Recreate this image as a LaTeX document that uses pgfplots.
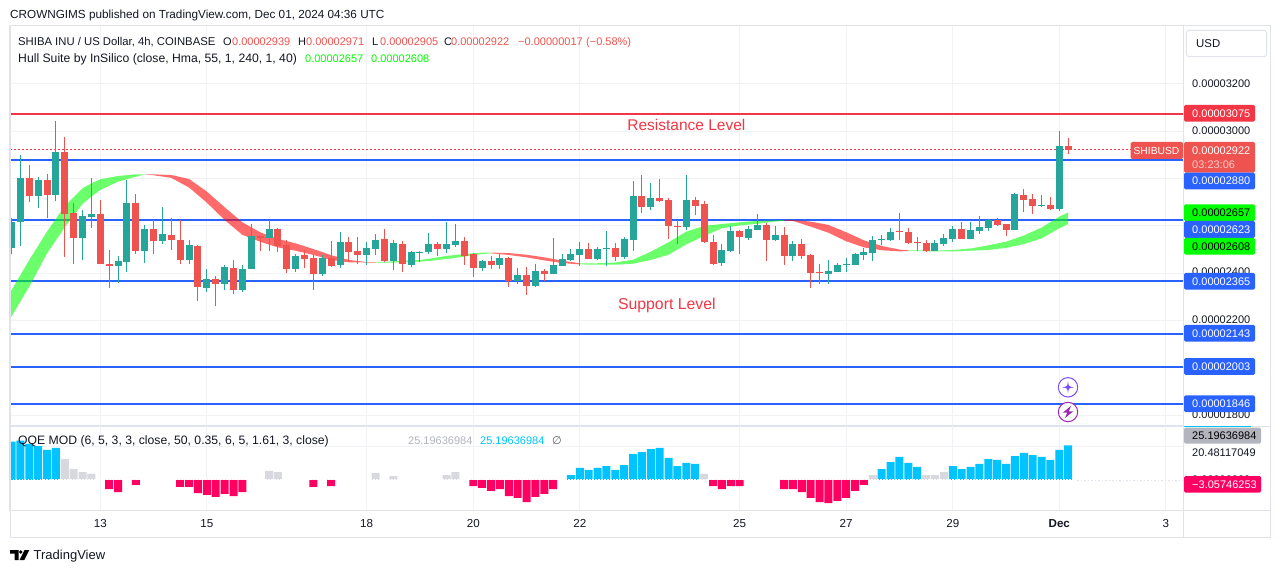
\documentclass[border=0pt]{standalone}
\usepackage{fontspec}
\setmainfont{Liberation Sans}
\newfontfamily\symfont{DejaVu Sans}
\usepackage{pgfplots}
\usepackage{pgfplotstable}
\pgfplotsset{compat=1.18}
\definecolor{cteal}{HTML}{26A69A}
\definecolor{cred}{HTML}{EF5350}
\definecolor{lred}{HTML}{F23645}
\definecolor{lblue}{HTML}{2962FF}
\definecolor{gridc}{HTML}{F0F2F5}
\definecolor{framec}{HTML}{E0E3EB}
\definecolor{tvtext}{HTML}{131722}
\definecolor{qblue}{HTML}{00C3FF}
\definecolor{qgray}{HTML}{D8D9DE}
\definecolor{qpink}{HTML}{FF0062}
\definecolor{lime}{HTML}{00FF00}
\definecolor{sgray}{HTML}{B2B5BE}
% Prices are in units of 0.00000001 USD; x is the 4h bar number counted from 13 Nov 00:00
\pgfplotstableread{
i O H L C
-10 2508 2632 2481 2618
-9 2618 2900 2515 2803
-7 2726 2807 2676 2794
-5 2731 3044 2705 2913
-2 2549 2667 2456 2642
-1 2638 2803 2591 2650
2 2431 2473 2359 2452
3 2447 2794 2407 2697
5 2494 2604 2443 2587
7 2536 2680 2523 2566
10 2456 2540 2439 2519
12 2338 2418 2321 2376
14 2354 2435 2329 2426
16 2329 2435 2321 2418
17 2418 2608 2418 2557
19 2549 2625 2494 2587
22 2418 2481 2405 2473
25 2397 2477 2388 2464
27 2435 2574 2422 2532
30 2477 2532 2435 2507
31 2502 2566 2477 2540
33 2452 2540 2414 2528
35 2435 2494 2426 2490
36 2486 2492 2447 2490
37 2490 2570 2481 2523
39 2502 2617 2485 2523
40 2519 2608 2511 2536
43 2422 2456 2409 2452
45 2435 2481 2418 2464
47 2367 2422 2354 2392
49 2346 2439 2342 2409
51 2397 2549 2395 2435
52 2430 2481 2430 2460
53 2456 2502 2452 2481
54 2477 2532 2430 2502
56 2460 2511 2456 2502
57 2502 2578 2430 2507
59 2469 2553 2460 2545
60 2540 2790 2494 2726
62 2680 2781 2667 2718
66 2595 2815 2583 2710
70 2443 2523 2430 2498
71 2494 2600 2490 2578
73 2549 2600 2540 2587
74 2583 2650 2581 2604
76 2540 2600 2536 2562
78 2473 2536 2452 2523
82 2397 2456 2354 2409
83 2405 2443 2403 2435
84 2435 2464 2405 2439
85 2435 2485 2433 2481
86 2477 2507 2456 2490
87 2485 2557 2452 2540
88 2540 2562 2519 2545
89 2540 2591 2536 2574
94 2494 2540 2492 2528
95 2523 2566 2515 2549
96 2545 2600 2532 2587
98 2545 2617 2543 2583
99 2578 2642 2566 2595
100 2591 2629 2578 2625
103 2583 2737 2581 2735
106 2684 2731 2680 2688
108 2671 3001 2663 2938
}\upbars
\pgfplotstableread{
i O H L C
-8 2803 2858 2701 2726
-6 2794 2820 2633 2731
-4 2913 2976 2469 2650
-3 2655 2695 2439 2549
0 2650 2710 2439 2439
1 2439 2498 2338 2431
4 2697 2735 2481 2494
6 2587 2625 2481 2536
8 2562 2633 2498 2540
9 2540 2625 2439 2456
11 2515 2519 2283 2342
13 2376 2388 2261 2354
15 2422 2456 2312 2329
18 2557 2559 2494 2549
20 2587 2590 2490 2515
21 2519 2540 2401 2418
23 2477 2498 2422 2460
24 2464 2477 2329 2397
26 2464 2536 2426 2431
28 2532 2553 2447 2490
29 2494 2553 2439 2477
32 2545 2587 2447 2452
34 2523 2536 2405 2439
38 2523 2532 2473 2502
41 2536 2553 2435 2473
42 2481 2485 2384 2422
44 2452 2473 2418 2435
46 2464 2469 2342 2367
48 2392 2426 2308 2346
50 2409 2418 2367 2397
55 2502 2528 2458 2460
58 2507 2528 2452 2469
61 2726 2815 2655 2680
63 2718 2798 2703 2705
64 2710 2718 2545 2600
65 2600 2625 2523 2595
67 2710 2722 2646 2684
68 2693 2705 2528 2532
69 2532 2562 2435 2439
72 2578 2583 2481 2553
75 2604 2612 2452 2540
77 2562 2595 2435 2473
79 2523 2545 2460 2473
80 2477 2480 2337 2401
81 2405 2439 2354 2401
90 2578 2655 2540 2574
91 2574 2591 2523 2528
92 2532 2553 2494 2528
93 2528 2540 2490 2494
97 2587 2617 2543 2545
101 2625 2633 2600 2604
102 2608 2610 2557 2583
104 2731 2756 2659 2710
105 2714 2735 2650 2684
107 2688 2722 2669 2671
109 2939 2971 2905 2922
}\downbars
\newcommand\ff[1]{\fontsize{#1}{#1}\selectfont}
% text helper: left x, centre y in reference pixels
\newcommand\tx[4][11]{\node[anchor=base west,inner sep=0pt,font=\ff{#1}] at (#2,{569-#3}) {#4};}
\newcommand\lab[4]{\fill[#1,rounded corners=1.5pt] (1184,{573-#2+8.4}) rectangle (1255,{573-#2-8.4});
  \node[anchor=base west,inner sep=0pt,text=#3,font=\ff{11}] at (1192,{569-#2}) {#4};}
\begin{document}
\begin{tikzpicture}
\path[use as bounding box,fill=white] (0pt,0pt) rectangle (1281pt,573pt);
\begin{axis}[
  scale only axis, width=1173pt, height=400pt, at={(10pt,147pt)}, anchor=south west,
  xmin=-10.17, xmax=121.93, ymin=1754, ymax=3445,
  xtick={0,12,30,42,54,72,84,96,108,120}, ytick={1800,2000,2200,2400,2600,2800,3000,3200},
  xticklabels={}, yticklabels={}, grid=major, grid style={gridc,line width=0.9pt},
  major tick length=0pt, axis line style={framec,line width=1pt}, clip=true]
\addplot[lblue,line width=2pt,forget plot] coordinates {(-10.17,2880) (121.93,2880)};
\addplot[lblue,line width=2pt,forget plot] coordinates {(-10.17,2623) (121.93,2623)};
\addplot[lblue,line width=2pt,forget plot] coordinates {(-10.17,2365) (121.93,2365)};
\addplot[lblue,line width=2pt,forget plot] coordinates {(-10.17,2143) (121.93,2143)};
\addplot[lblue,line width=2pt,forget plot] coordinates {(-10.17,2003) (121.93,2003)};
\addplot[lblue,line width=2pt,forget plot] coordinates {(-10.17,1846) (121.93,1846)};
\addplot[lred,line width=2pt,forget plot] coordinates {(-10.17,3075) (121.93,3075)};
\addplot[lred,line width=1.2pt,dash pattern=on 2pt off 2pt,forget plot] coordinates {(-10.17,2922) (121.93,2922)};
% Hull band: upper edge left to right, lower edge back
\addplot[fill=lime,fill opacity=0.58,draw=none,forget plot] coordinates {
 (-10.2,2315)(-8,2456)(-6,2576)(-4,2684)(-2,2759)(-1,2780)(0,2797)(2,2811)(4,2818)(5,2818)
 (5,2817)(4,2808)(2,2787)(0,2752)(-1,2724)(-2,2693)(-4,2594)(-6,2484)(-8,2343)(-10.2,2205)} -- cycle;
\addplot[fill=red,fill opacity=0.58,draw=none,forget plot] coordinates {
 (5,2818)(6,2818)(8,2815)(10,2798)(12,2745)(14,2679)(16,2615)(18,2573)(20,2545)(22,2526)(24,2502)(26,2476)(28,2456)(30,2447)(31,2447)
 (31,2445)(30,2445)(28,2446)(26,2456)(24,2477)(22,2495)(20,2509)(18,2533)(16,2562)(14,2625)(12,2698)(10,2762)(8,2803)(6,2814)(5,2817)} -- cycle;
\addplot[fill=lime,fill opacity=0.58,draw=none,forget plot] coordinates {
 (31,2447)(33,2450)(36,2456)(37,2461)(39,2473)(41,2481)(43,2487)(44,2487)
 (44,2484)(43,2481)(41,2470)(39,2460)(37,2452)(36,2449)(33,2445)(31,2445)} -- cycle;
\addplot[fill=red,fill opacity=0.58,draw=none,forget plot] coordinates {
 (44,2487)(46,2485)(48,2478)(50,2467)(52,2453)(54,2442)
 (54,2437)(52,2443)(50,2454)(48,2467)(46,2477)(44,2484)} -- cycle;
\addplot[fill=lime,fill opacity=0.58,draw=none,forget plot] coordinates {
 (54,2442)(56,2442)(58,2445)(60,2457)(62,2491)(64,2531)(66,2576)(68,2600)(70,2608)(72,2615)(74,2621)(76,2623)(77,2625)
 (77,2622)(76,2618)(74,2609)(72,2602)(70,2590)(68,2557)(66,2522)(64,2478)(62,2456)(60,2440)(58,2436)(56,2436)(54,2437)} -- cycle;
\addplot[fill=red,fill opacity=0.58,draw=none,forget plot] coordinates {
 (77,2625)(78,2625)(80,2618)(82,2604)(84,2573)(86,2539)(88,2515)(90,2500)(91,2497)
 (91,2494)(90,2492)(88,2497)(86,2509)(84,2535)(82,2571)(80,2597)(78,2621)(77,2622)} -- cycle;
\addplot[fill=lime,fill opacity=0.58,draw=none,forget plot] coordinates {
 (91,2497)(94,2495)(96,2498)(98,2504)(100,2518)(102,2533)(104,2559)(106,2593)(108,2639)(109,2657)
 (109,2608)(108,2590)(106,2547)(104,2523)(102,2507)(100,2498)(98,2495)(96,2492)(94,2492)(91,2494)} -- cycle;
% wicks
\addplot[draw=none,mark=none,forget plot,error bars/.cd,y dir=plus,y explicit,error mark=none,
  error bar style={cteal,line width=1pt}] table[x=i,y=L,y error plus expr=\thisrow{H}-\thisrow{L}] {\upbars};
\addplot[draw=none,mark=none,forget plot,error bars/.cd,y dir=plus,y explicit,error mark=none,
  error bar style={cred,line width=1pt}] table[x=i,y=L,y error plus expr=\thisrow{H}-\thisrow{L}] {\downbars};
% bodies
\addplot[draw=none,mark=none,forget plot,error bars/.cd,y dir=plus,y explicit,error mark=none,
  error bar style={cteal,line width=7pt}] table[x=i,y=O,y error plus expr=\thisrow{C}-\thisrow{O}] {\upbars};
\addplot[draw=none,mark=none,forget plot,error bars/.cd,y dir=plus,y explicit,error mark=none,
  error bar style={cred,line width=7pt}] table[x=i,y=C,y error plus expr=\thisrow{O}-\thisrow{C}] {\downbars};
\node[text=lred,font=\ff{15.5}] at (axis cs:66,3026) {Resistance Level};
\node[text=lred,font=\ff{15.8}] at (axis cs:63.8,2265) {Support Level};
\end{axis}
\begin{axis}[
  scale only axis, width=1173pt, height=84pt, at={(10pt,63pt)}, anchor=south west,
  xmin=-10.17, xmax=121.93, ymin=-21.9, ymax=39.4,
  xtick={0,12,30,42,54,72,84,96,108,120},
  xticklabels={13,15,18,20,22,25,27,29,\textbf{Dec},3},
  xticklabel style={font=\ff{11.6},text=tvtext,anchor=center,yshift=-13.5pt},
  ytick={24.5}, yticklabels={}, grid=major, grid style={gridc,line width=0.9pt},
  major tick length=0pt, axis line style={framec,line width=1pt}, clip=true]
\addplot[ybar,bar width=8pt,bar shift=0pt,fill=qblue,draw=none,forget plot] coordinates {
 (-10,28) (-9,28.7) (-8,26.3) (-7,24.8) (-6,21.9) (-5,23.4)
 (53,3.6) (54,8.8) (55,7.3) (56,8.8) (57,10.2) (58,7.3) (59,10.9) (60,19) (61,20.4) (62,22.6) (63,23.4) (64,16.1) (65,10.2) (66,12.4) (67,11.7)
 (88,8) (89,13.1) (90,16.8) (91,12.4) (92,9.5) (96,10.2) (97,8) (98,9.5) (99,11.7) (100,15.3) (101,14.6) (102,11.7) (103,17.5) (104,19.7) (105,18.2) (106,16.8) (107,14.6) (108,21.9) (109,25.2)};
\addplot[ybar,bar width=8pt,bar shift=0pt,fill=qgray,draw=none,forget plot] coordinates {
 (-4,15.3) (-3,8) (-2,5.8) (-1,4.4) (19,6.6) (20,5.8) (31,5.1) (33,2.9) (39,3.6) (40,5.8) (68,4.4) (87,3.6) (93,3.6) (94,3.6) (95,5.8)};
\addplot[ybar,bar width=8pt,bar shift=0pt,fill=qpink,draw=none,forget plot] coordinates {
 (1,-6.6) (2,-8.8) (4,-3.6) (9,-5.1) (10,-5.1) (11,-9.5) (12,-10.9) (13,-12.4) (14,-10.2) (15,-11.7) (16,-8.8) (24,-5.1) (26,-4.4)
 (42,-4.4) (43,-5.8) (44,-8) (45,-6.6) (46,-11.7) (47,-13.1) (48,-16.1) (49,-12.4) (50,-10.2) (51,-6.6) (69,-4.4) (70,-6.6) (71,-4.4) (72,-4.4)
 (77,-6.6) (78,-6.6) (79,-8.8) (80,-13.1) (81,-16.1) (82,-16.8) (83,-15.3) (84,-13.1) (85,-8) (86,-3.6)};
\addplot[white,line width=1pt,dash pattern=on 1.5pt off 1.5pt,forget plot] coordinates {(-10.17,0) (110,0)};
\addplot[framec,line width=0.8pt,dash pattern=on 1.5pt off 2pt,forget plot] coordinates {(110,0) (121.93,0)};
\end{axis}
\begin{scope}[x=1pt,y=1pt]
% frame
\draw[framec,line width=1pt] (10,{573-26}) rectangle (1270,{573-537});
\draw[framec,line width=1pt] (1183,{573-26}) -- (1183,{573-537});
\draw[framec,line width=1pt] (1183,{573-426}) -- (1270,{573-426});
\draw[framec,line width=1pt] (1183,{573-510}) -- (1270,{573-510});
% header and legends
\color{tvtext}
\tx[11.73]{10}{14.7}{CROWNGIMS published on TradingView.com, Dec 01, 2024 04:36 UTC}
\tx[11.3]{18}{41.7}{SHIBA INU / US Dollar, 4h, COINBASE}
\tx{223}{41.7}{O} \tx{232}{41.7}{\textcolor{cred}{0.00002939}}
\tx{298}{41.7}{H} \tx{306}{41.7}{\textcolor{cred}{0.00002971}}
\tx{372}{41.7}{L} \tx{380}{41.7}{\textcolor{cred}{0.00002905}}
\tx{444}{41.7}{C} \tx{451}{41.7}{\textcolor{cred}{0.00002922}}
\tx{518}{41.7}{\textcolor{cred}{\symbol{"2212}0.00000017}}
\tx{586}{41.7}{\textcolor{cred}{(\symbol{"2212}0.58\%)}}
\tx[12.2]{18}{58.7}{Hull Suite by InSilico (close, Hma, 55, 1, 240, 1, 40)}
\tx{305}{58.7}{\textcolor{lime}{0.00002657}}
\tx{371}{58.7}{\textcolor{lime}{0.00002608}}
\tx[12.2]{18}{440.7}{QQE MOD (6, 5, 3, 3, close, 50, 0.35, 6, 5, 1.61, 3, close)}
\tx{408}{440.7}{\textcolor{sgray}{25.19636984}}
\tx{480}{440.7}{\textcolor{qblue}{25.19636984}}
\tx{552}{440.7}{{\symfont\textcolor{tvtext!70}{∅}}}
% price scale
\draw[framec,line width=1pt,rounded corners=3pt,fill=white] (1186.3,{573-30.3}) rectangle (1266.7,{573-56.7});
\tx[11.4]{1196}{43.5}{USD}
\tx{1192}{84}{0.00003200}
\tx{1192}{131}{0.00003000}
\tx{1192}{271.7}{0.00002400}
\tx{1192}{320}{0.00002200}
\tx{1192}{414.7}{0.00001800}
\lab{lred}{113.3}{white}{0.00003075}
\fill[cred,rounded corners=1.5pt] (1184,{573-142}) rectangle (1255,{573-172.7});
\tx{1192}{150.3}{\textcolor{white}{0.00002922}}
\tx{1192}{164.7}{\textcolor{white!70!cred}{03:23:06}}
\lab{lblue}{181}{white}{0.00002880}
\lab{lime}{212.7}{black}{0.00002657}
\lab{lblue}{229.4}{white}{0.00002623}
\lab{lime}{246.3}{black}{0.00002608}
\lab{lblue}{281.3}{white}{0.00002365}
\lab{lblue}{333.3}{white}{0.00002143}
\lab{lblue}{366.5}{white}{0.00002003}
\lab{lblue}{403.7}{white}{0.00001846}
\fill[cred,rounded corners=1.5pt] (1130.5,{573-142}) rectangle (1183,{573-159});
\node[anchor=base,inner sep=0pt,text=white,font=\ff{10.3}] at (1156.5,{569-150.5}) {SHIBUSD};
% QQE scale
\draw[qblue,line width=1pt] (1184,{573-426.5}) -- (1251,{573-426.5});
\fill[sgray,rounded corners=1.5pt] (1184,{573-427.7}) rectangle (1261,{573-443.7});
\tx{1192}{435.7}{\textcolor{black}{25.19636984}}
\tx{1192}{452.7}{20.48117049}
\tx{1192}{479.8}{0.00000000}
\fill[qpink,rounded corners=1.5pt] (1184,{573-476}) rectangle (1261,{573-492.7});
\tx{1192}{484.4}{\textcolor{white}{\symbol{"2212}3.05746253}}
% icons
\definecolor{icA}{RGB}{124,77,255}
\definecolor{icB}{RGB}{156,39,176}
\draw[icA,line width=1pt,fill=white] (1068,{573-387.3}) circle (9.7);
\fill[icA] (1068,{573-381.3}) .. controls (1068.6,{573-386.5}) .. (1074,{573-387.3}) .. controls (1068.6,{573-388.1}) .. (1068,{573-393.3}) .. controls (1067.4,{573-388.1}) .. (1062,{573-387.3}) .. controls (1067.4,{573-386.5}) .. (1068,{573-381.3}) -- cycle;
\draw[icB,line width=1pt,fill=white] (1068,{573-412}) circle (9.7);
\fill[icB] (1071,{573-406}) -- (1063,{573-412.5}) -- (1067.3,{573-412.5}) -- (1065,{573-418}) -- (1073,{573-411.5}) -- (1068.7,{573-411.5}) -- cycle;
% logo
\fill[black] (10,{573-550}) -- (18.5,{573-550}) -- (18.5,{573-560}) -- (14.5,{573-560}) -- (14.5,{573-553.7}) -- (10,{573-553.7}) -- cycle;
\fill[black] (20.7,{573-552}) circle (1.9);
\fill[black] (24.5,{573-550}) -- (29.3,{573-550}) -- (24.3,{573-560}) -- (19.5,{573-560}) -- cycle;
\tx[13]{33.5}{555.5}{TradingView}
\end{scope}
\end{tikzpicture}
\end{document}
